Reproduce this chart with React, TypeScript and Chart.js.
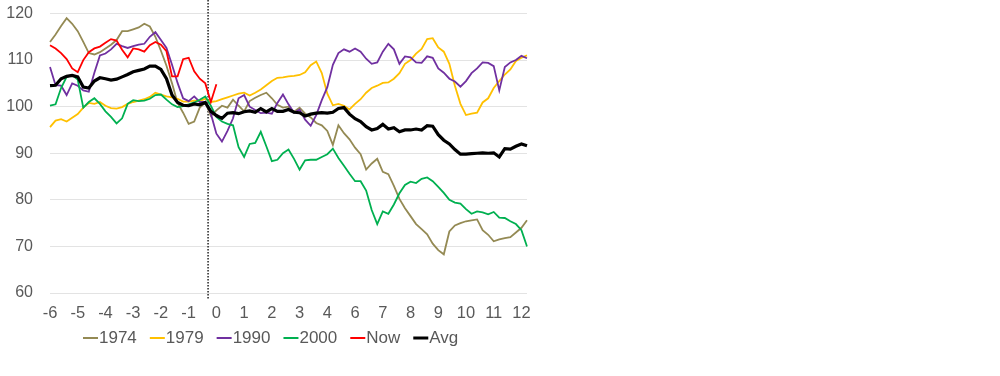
import React, { useEffect, useRef } from 'react';
import { Chart, registerables } from 'chart.js';

Chart.register(...registerables);

// Axis tick labels (as printed on the reference axis, note: no "5")
const TICK_LABELS = ['-6', '-5', '-4', '-3', '-2', '-1', '0', '1', '2', '3', '4', '6', '7', '8', '9', '10', '11', '12'];
const STEPS_PER_TICK = 5;
const POINT_COUNT = 87;
// position of the dotted "today" marker, in sample index units
const MARKER_POS = 28.5;

const S1974 = [
  113.9, 115.5, 117.3, 119, 117.8, 116.2, 113.9, 111.5, 111.2, 111.7,
  112.5, 113.3, 114.3, 116.2, 116.2, 116.6, 117, 117.8, 117.2, 115,
  112, 108.8, 105, 100.8, 98.7, 96.3, 96.8, 99.8, 100.9, 98,
  99.2, 100.2, 99.8, 101.5, 100.2, 99, 101.2, 101.9, 102.5, 103,
  101.8, 100.4, 99.8, 100, 98.9, 99.8, 98.5, 97.7, 96.5, 96,
  94.8, 91.8, 96, 94.3, 93, 91.2, 89.8, 86.5, 87.8, 88.8,
  86, 85.5, 83, 80.2, 78.2, 76.5, 74.8, 73.7, 72.6, 70.6,
  69.2, 68.3, 73.2, 74.5, 75, 75.4, 75.6, 75.8, 73.5, 72.5,
  71.1, 71.5, 71.8, 72, 73, 74, 75.6,
];

const S1979 = [
  95.6, 97, 97.3, 96.8, 97.6, 98.4, 99.8, 100.8, 100.6, 101,
  100.2, 99.7, 99.6, 99.9, 100.6, 101, 101.3, 101.6, 102.1, 103,
  102.6, 102.2, 102, 101.7, 101.1, 101.1, 101.3, 101.2, 101.7, 101,
  101.2, 101.6, 102, 102.4, 102.8, 103, 102.4, 103, 103.7, 104.6,
  105.5, 106.2, 106.3, 106.5, 106.6, 106.8, 107.4, 108.9, 109.7, 107.2,
  102.8, 100.3, 100.6, 100.2, 99.4, 100.6, 101.6, 103, 104, 104.5,
  105.1, 105.2, 106, 107.2, 109.2, 110, 111.4, 112.4, 114.5, 114.7,
  112.7, 111.8, 109.2, 104.5, 100.6, 98.2, 98.5, 98.7, 100.9, 101.8,
  104, 105.5, 106.9, 108, 109.8, 110.5, 111,
];

const S1990 = [
  108.5, 104.6, 104.5, 102.5, 105, 104.5, 103.5, 103.2, 107.3, 111,
  111.4, 112.3, 113.5, 113, 112.6, 113, 113.3, 113.5, 115, 116,
  114.3, 112.6, 109, 105.1, 101.8, 101.2, 102.2, 101, 101, 98.5,
  94.2, 92.5, 94.8, 97.5, 101.8, 102.5, 100, 99.3, 98.6, 98.7,
  98.5, 100.8, 102.6, 100.5, 98.7, 99.4, 97.2, 95.9, 98.2, 101.4,
  104.2, 109, 111.5, 112.3, 111.8, 112.5, 111.8, 110.3, 109.2, 109.5,
  111.8, 113.5, 112.3, 109.2, 110.8, 110.6, 109.5, 109.4, 110.8, 110.5,
  108.2, 107.3, 106, 105.4, 104.3, 105.5, 107.2, 108.2, 109.5, 109.4,
  108.7, 103.5, 108.5, 109.5, 110, 110.9, 110.4,
];

const S2000 = [
  100.2, 100.5, 104, 106.4, 106.8, 105.8, 99.8, 101, 101.8, 100.6,
  99, 97.8, 96.4, 97.5, 100.6, 101.4, 101.2, 101.3, 101.7, 102.5,
  102.6, 101.5, 100.5, 99.9, 100.1, 100.5, 100.9, 101.5, 102.2, 100.2,
  97.8, 96.8, 96.3, 96, 91.3, 89.2, 92, 92.2, 94.6, 91.5,
  88.3, 88.6, 90, 90.8, 88.8, 86.5, 88.5, 88.6, 88.6, 89.2,
  89.8, 91, 89, 87.3, 85.6, 84, 84, 82, 77.8, 74.8,
  77.5, 77, 79, 81.4, 83.2, 83.9, 83.6, 84.5, 84.8, 84,
  82.8, 81.5, 80, 79.4, 79.2, 78, 77, 77.5, 77.3, 76.9,
  77.4, 76.2, 76.1, 75.4, 74.8, 73.5, 70,
];

const SNOW = [
  113.2, 112.5, 111.5, 110.2, 108.2, 107.4, 110, 111.7, 112.5, 112.9,
  113.7, 114.5, 114.2, 112.2, 110.6, 112.5, 112.3, 111.8, 113.2, 113.9,
  113.3, 111.9, 106.5, 106.5, 110.2, 110.5, 107.6, 106, 105, 101,
  104.8,
];

const SAVG = [
  104.5, 104.6, 106, 106.5, 106.7, 106.4, 104.2, 104, 105.5, 106.2,
  106, 105.7, 105.9, 106.4, 106.9, 107.5, 107.8, 108.1, 108.7, 108.7,
  108, 106, 102.5, 100.9, 100.3, 100.2, 100.6, 100.4, 100.9, 99,
  98.1, 97.5, 98.6, 98.7, 98.5, 98.9, 99.1, 98.8, 99.6, 98.9,
  99.6, 99, 99, 99.4, 98.8, 98.7, 98, 98.4, 98.6, 98.7,
  98.6, 98.8, 99.6, 99.8, 98.4, 97.4, 96.8, 95.7, 95, 95.3,
  96.2, 95.2, 95.5, 94.6, 95, 95, 95.2, 95, 95.9, 95.8,
  94, 92.8, 92, 90.8, 89.8, 89.8, 89.9, 90, 90.1, 90,
  90.1, 89.2, 91, 90.9, 91.5, 92, 91.6,
];

const SERIES_NAMES = ['1974', '1979', '1990', '2000', 'Now', 'Avg'];
const SERIES_DATA = [S1974, S1979, S1990, S2000, SNOW, SAVG];
const SERIES_COLORS = ['#948A54', '#FFC000', '#7030A0', '#00B050', '#FF0000', '#000000'];
const SERIES_WIDTHS = [1.8, 1.8, 1.8, 1.8, 1.8, 3.2];
const SERIES_ORDER = [5, 4, 3, 2, 1, 0];

const Y_MIN = 60;
const Y_MAX = 120;
const Y_STEP = 10;

const FONT = "'Liberation Sans', Arial, sans-serif";
const TEXT_COLOR = '#595959';

const markerPlugin = {
  id: 'marker',
  beforeDatasetsDraw(chart: any) {
    const { ctx, scales } = chart;
    const x = scales.x.getPixelForValue(MARKER_POS);
    const yBottom = scales.y.getPixelForValue(Y_MIN) + 7;
    ctx.save();
    ctx.strokeStyle = '#222';
    ctx.lineWidth = 1.5;
    ctx.setLineDash([1.5, 1.5]);
    ctx.beginPath();
    ctx.moveTo(x, 0);
    ctx.lineTo(x, yBottom);
    ctx.stroke();
    ctx.restore();
  },
};

const legendPlugin = {
  id: 'customLegend',
  afterDraw(chart: any) {
    const { ctx } = chart;
    const y = 338;
    let x = 83;
    ctx.save();
    ctx.font = `17px ${FONT}`;
    ctx.textBaseline = 'middle';
    ctx.textAlign = 'left';
    chart.data.datasets.forEach((ds: any, i: number) => {
      ctx.strokeStyle = ds.borderColor;
      ctx.lineWidth = i === 5 ? 3 : 2;
      ctx.beginPath();
      ctx.moveTo(x, y);
      ctx.lineTo(x + 15, y);
      ctx.stroke();
      ctx.fillStyle = TEXT_COLOR;
      ctx.fillText(ds.label, x + 16, y);
      x += 16 + ctx.measureText(ds.label).width + 13;
    });
    ctx.restore();
  },
};

export default function App() {
  const ref = useRef<HTMLCanvasElement>(null);

  useEffect(() => {
    if (!ref.current) return;
    const categories = Array.from({ length: POINT_COUNT }, (_, i) =>
      i % STEPS_PER_TICK === 0 ? TICK_LABELS[i / STEPS_PER_TICK] ?? '' : ''
    );
    const chart = new Chart(ref.current, {
      type: 'line',
      data: {
        labels: categories,
        datasets: SERIES_NAMES.map((name, i) => ({
          label: name,
          data: SERIES_DATA[i],
          borderColor: SERIES_COLORS[i],
          backgroundColor: SERIES_COLORS[i],
          borderWidth: SERIES_WIDTHS[i],
          pointRadius: 0,
          tension: 0,
          fill: false,
          order: SERIES_ORDER[i],
        })),
      },
      options: {
        responsive: false,
        animation: false,
        layout: { padding: { left: 0, right: 473, top: 13.5, bottom: 43 } },
        plugins: {
          legend: { display: false },
          tooltip: { enabled: false },
        },
        scales: {
          x: {
            type: 'category',
            offset: false,
            grid: { display: false, drawTicks: false },
            border: { display: false },
            ticks: {
              autoSkip: false,
              maxRotation: 0,
              minRotation: 0,
              padding: 11,
              color: TEXT_COLOR,
              font: { family: FONT, size: 16.5 },
            },
            afterFit: (scale: any) => {
              scale.height = 40;
            },
          },
          y: {
            min: Y_MIN,
            max: Y_MAX,
            grid: {
              color: '#e3e3e3',
              lineWidth: 1,
              drawTicks: true,
              tickLength: 17,
              tickColor: 'rgba(0,0,0,0)',
            },
            border: { display: false },
            ticks: {
              stepSize: Y_STEP,
              padding: 0,
              color: TEXT_COLOR,
              font: { family: FONT, size: 16 },
            },
            afterFit: (scale: any) => {
              scale.width = 50;
            },
          },
        },
      },
      plugins: [markerPlugin, legendPlugin],
    });
    return () => chart.destroy();
  }, []);

  return (
    <div style={{ position: 'absolute', left: 0, top: 0, width: 1000, height: 376, background: '#fff' }}>
      <canvas ref={ref} width={1000} height={376} style={{ display: 'block' }} />
    </div>
  );
}
